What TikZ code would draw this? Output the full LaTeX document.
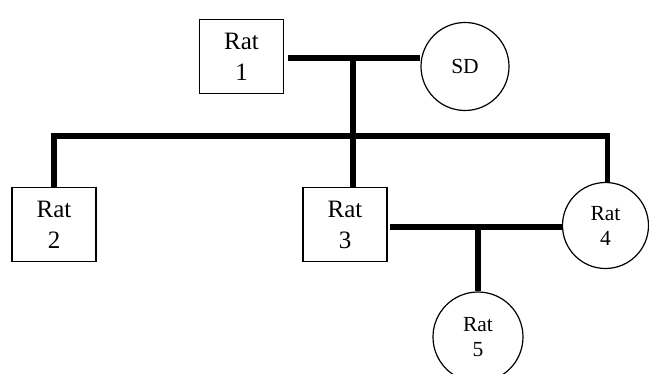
\documentclass[tikz,border=0pt]{standalone}
\usepackage{fontspec}
\setmainfont{Liberation Serif}
\begin{document}
\begin{tikzpicture}[x=1pt,y=-1pt,
  ratbox/.style={draw,line width=1.2pt,rectangle,minimum width=84pt,minimum height=74pt,inner sep=0pt,align=center,font=\fontsize{25}{31}\selectfont},
  ratcirc/.style={draw,line width=1.2pt,circle,minimum size=#1,inner sep=0pt,align=center,font=\fontsize{21.5}{25}\selectfont},
  bar/.style={line width=5.5pt,line join=miter,line cap=butt}]
\useasboundingbox (0,0) rectangle (649,374);
\node[ratbox] (r1) at (241.5,56.5) {Rat\\1};
\node[ratcirc=88pt] (sd) at (465,66.5) {SD};
\node[ratbox] (r2) at (54,224.5) {Rat\\2};
\node[ratbox] (r3) at (345,224.5) {Rat\\3};
\node[ratcirc=86pt] (r4) at (605.5,225.5) {Rat\\4};
\node[ratcirc=90pt] (r5) at (478,337) {Rat\\5};
\coordinate (m1) at (353,58);
\coordinate (m2) at (353,136);
\coordinate (m3) at (478,227);
\draw[bar] ([xshift=4pt]r1.east |- m1) -- (m1 -| sd.west);
\draw[bar] (m1) -- (m2);
\draw[bar] (r2.north) -- (r2.north |- m2) -- ([xshift=2pt]r4.north |- m2) -- ([xshift=2pt]r4.north);
\draw[bar] (m2) -- (m2 |- r3.north);
\draw[bar] ([xshift=2pt]r3.east |- m3) -- (m3 -| r4.west);
\draw[bar] (m3) -- (r5.north);
\end{tikzpicture}
\end{document}
